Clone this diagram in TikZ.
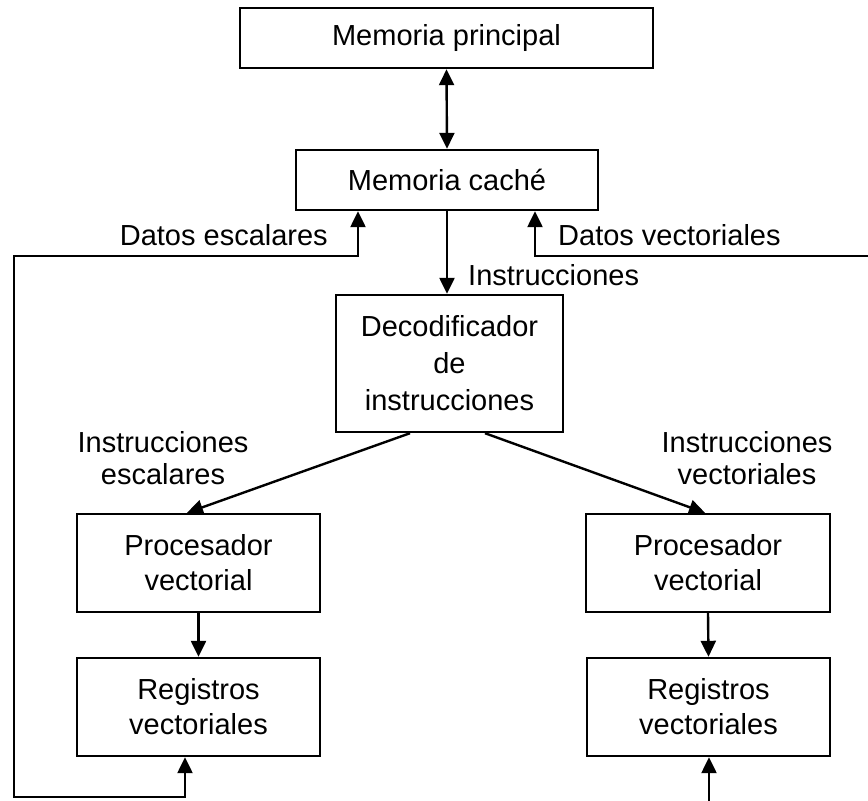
\documentclass[tikz,border=0pt]{standalone}
\usepackage{fontspec}
\setmainfont{Liberation Sans}
\usetikzlibrary{arrows.meta,calc}
\begin{document}
\begin{tikzpicture}[x=1pt,y=-1pt,
  every node/.style={font=\fontsize{29}{35}\selectfont},
  box/.style={draw, line width=2.4pt, inner sep=0pt, align=center},
  lbl/.style={inner sep=0pt},
  arr/.style={line width=2.4pt, arrows={-Triangle[length=16pt,width=15pt]}},
  biarr/.style={line width=2.4pt, arrows={Triangle[length=16pt,width=15pt]-Triangle[length=16pt,width=15pt]}}]
  \useasboundingbox (0,0) rectangle (868,801);

  % units
  \node[box, minimum width=413pt, minimum height=60pt] (mp) at (446.5,38) {Memoria principal};
  \node[box, minimum width=302pt, minimum height=60pt] (mc) at (447,180) {Memoria caché};
  \node[box, minimum width=227pt, minimum height=137pt, font=\fontsize{29}{37}\selectfont] (dec) at (449.5,363.5) {Decodificador\\de\\instrucciones};
  \node[box, minimum width=243pt, minimum height=98pt] (pl) at (198.5,563) {Procesador\\vectorial};
  \node[box, minimum width=243pt, minimum height=98pt] (rl) at (198.5,707) {Registros\\vectoriales};
  \node[box, minimum width=244pt, minimum height=98pt] (pr) at (708,563) {Procesador\\vectorial};
  \node[box, minimum width=243pt, minimum height=98pt] (rr) at (708.5,707) {Registros\\vectoriales};

  % bends of the data paths
  \coordinate (lt) at (358,256);
  \coordinate (lc) at (14,256);
  \coordinate (lb) at (14,797);
  \coordinate (lr) at (185,797);
  \coordinate (rt) at (535,256);
  \coordinate (re) at (868,256);
  \coordinate (rb) at (709,801);

  % connectors
  \draw[biarr] (mp.south) -- (mc.north);
  \draw[arr] (mc.south) -- (mc.south |- dec.north);
  \draw[biarr] (mc.south -| lt) -- (lt) -- (lc) -- (lb) -- (lr) -- (lr |- rl.south);
  \draw[arr] (re) -- (rt) -- (rt |- mc.south);
  \draw[arr] (rb) -- (rb |- rr.south);
  \draw[arr] ($(dec.south)+(-39.5,0)$) -- ($(pl.north)+(-11.5,0)$);
  \draw[arr] ($(dec.south)+(35.5,0)$) -- ($(pr.north)+(-3,0)$);
  \draw[arr] (pl.south) -- (rl.north);
  \draw[arr] (pr.south) -- (rr.north);

  % labels
  \node[lbl, anchor=base east] (ds) at (328,245) {Datos escalares};
  \node[lbl, anchor=base west] (dv) at (558,245) {Datos vectoriales};
  \node[lbl, anchor=base west] (ins) at (468,285) {Instrucciones};
  \node[lbl, align=center, font=\fontsize{29}{32}\selectfont] (ie) at (163,458.5) {Instrucciones\\escalares};
  \node[lbl, align=center, font=\fontsize{29}{32}\selectfont] (iv) at (747,458.5) {Instrucciones\\vectoriales};
\end{tikzpicture}
\end{document}
